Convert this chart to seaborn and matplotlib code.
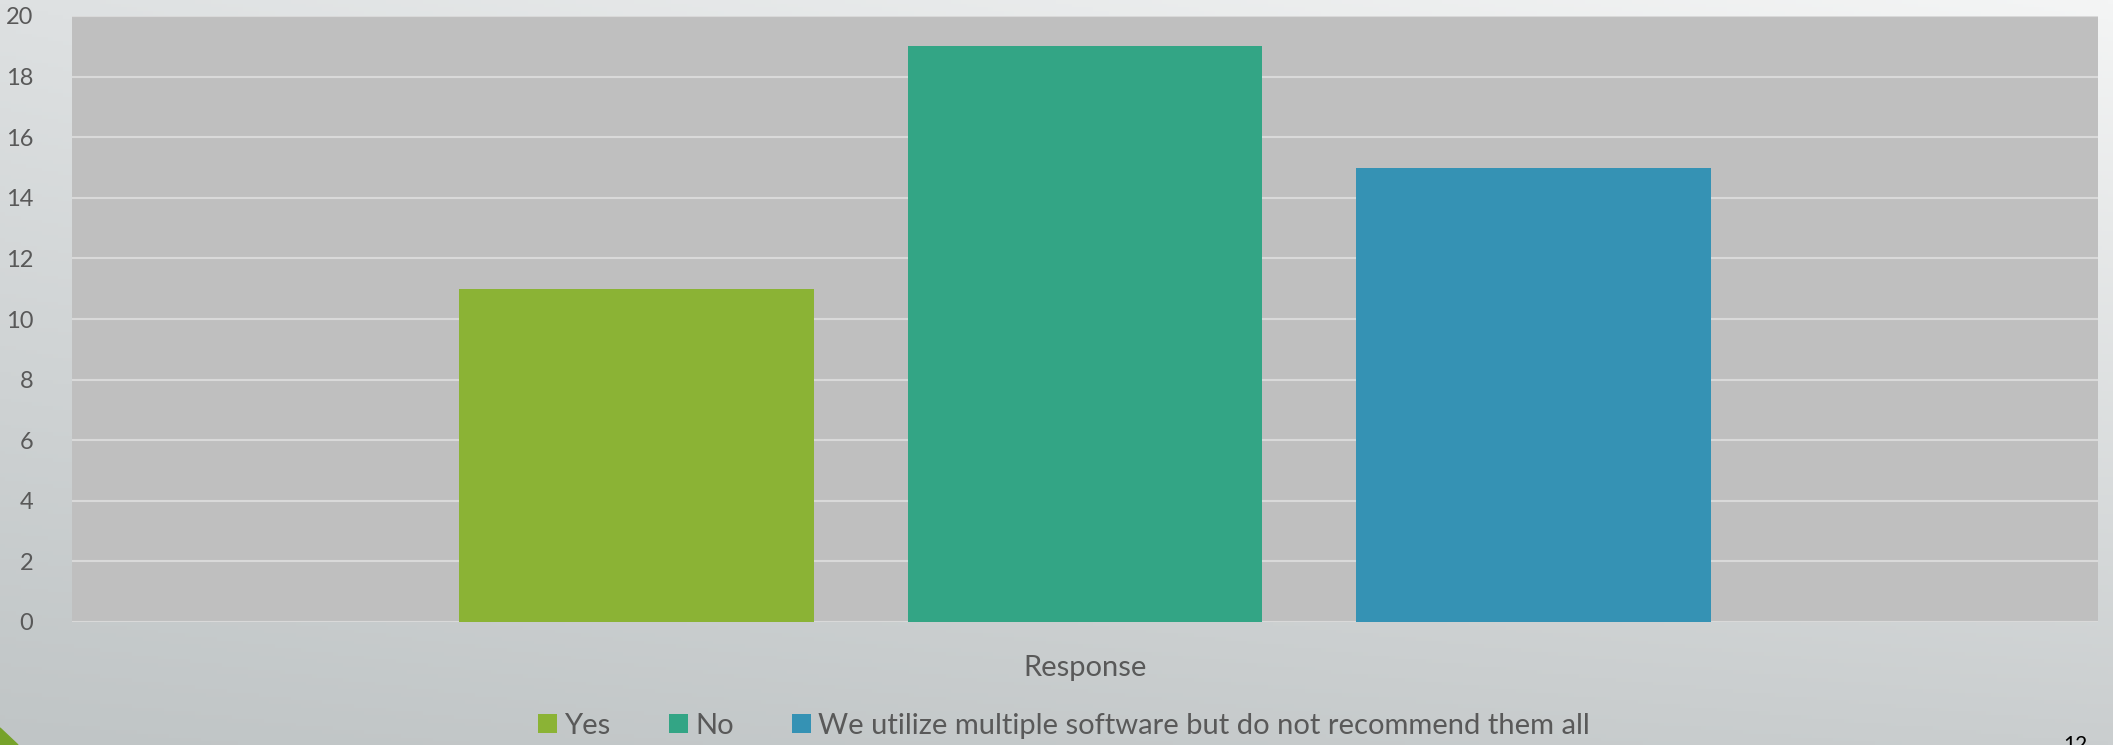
import numpy as np
import pandas as pd
import matplotlib
matplotlib.use("Agg")
import matplotlib.pyplot as plt
from matplotlib.patches import Patch, Polygon
import seaborn as sns

# ---- data ----
categories = ["Response"]
series = ["Yes", "No", "We utilize multiple software but do not recommend them all"]
values = [11, 19, 15]
colors = ["#8BB335", "#33A585", "#3592B4"]
yticks = [0, 2, 4, 6, 8, 10, 12, 14, 16, 18, 20]
page_number = "12"

df = pd.DataFrame({"category": categories * len(series), "series": series, "value": values})

sns.set_theme(style="white")
plt.rcParams["font.family"] = ["Lato", "DejaVu Sans"]
TXT = "#595959"

W, H = 2113, 745
fig = plt.figure(figsize=(W / 100, H / 100), dpi=100)

# background gradient
bg = fig.add_axes([0, 0, 1, 1], zorder=-10)
bg.axis("off")
yy, xx = np.mgrid[0:1:200j, 0:1:400j]
tl = np.array([222, 225, 226]) / 255
tr = np.array([244, 245, 245]) / 255
bl = np.array([192, 197, 198]) / 255
br = np.array([202, 206, 207]) / 255
img = ((1 - xx)[..., None] * (1 - yy)[..., None] * tl + xx[..., None] * (1 - yy)[..., None] * tr
       + (1 - xx)[..., None] * yy[..., None] * bl + xx[..., None] * yy[..., None] * br)
bg.imshow(img, aspect="auto", extent=[0, 1, 0, 1], origin="upper")
bg.set_xlim(0, 1)
bg.set_ylim(0, 1)
bg.add_patch(Polygon([[0, 0], [18 / W, 0], [0, 17 / H]], closed=True, color="#76A22A"))

ax = fig.add_axes([72 / W, (H - 622) / H, 2026 / W, 606 / H])
sns.barplot(data=df, x="category", y="value", hue="series", palette=colors,
            width=0.664, gap=0.21, ax=ax, legend=False, saturation=1, linewidth=0)
ax.set_facecolor("#BFBFBF")
ax.set_xlim(-0.5, 0.5)
ax.set_ylim(0, 20)
ax.set_yticks(yticks)
ax.set_yticklabels([str(v) for v in yticks])
ax.yaxis.grid(True, color="#D9D9D9", linewidth=1.5)
ax.set_axisbelow(True)
for s in ax.spines.values():
    s.set_visible(False)
ax.tick_params(axis="y", length=0, pad=28, labelsize=17, labelcolor=TXT)
ax.tick_params(axis="x", length=0, pad=24, labelsize=21, labelcolor=TXT)
ax.set_xlabel("")
ax.set_ylabel("")

handles = [Patch(facecolor=c, edgecolor="none") for c in colors]
fig.legend(handles, series, loc="center", bbox_to_anchor=(1064 / W, 1 - 726 / H),
           ncol=3, frameon=False, fontsize=21, labelcolor=TXT,
           handlelength=0.65, handleheight=0.65, handletextpad=0.25, columnspacing=2.0)

fig.text(2063 / W, 1 - 735 / H, page_number, ha="left", va="top", fontsize=15, color="black")

fig.savefig("out.png", dpi=100)
